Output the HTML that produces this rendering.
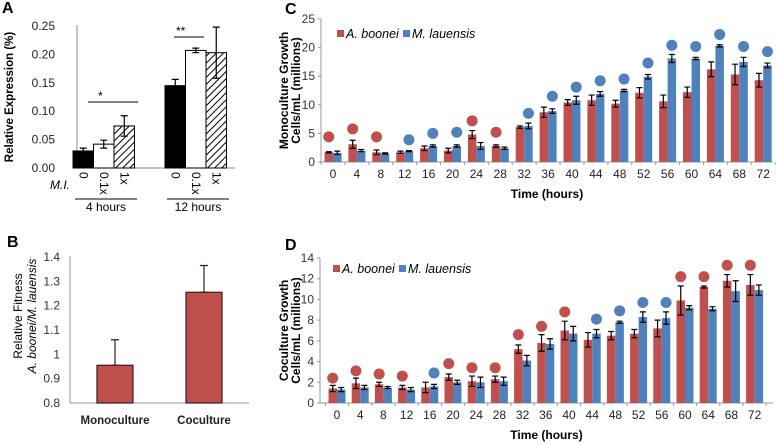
<!DOCTYPE html>
<html><head><meta charset="utf-8"><style>
body{margin:0;background:#fff;}
svg{display:block;font-family:"Liberation Sans",sans-serif;}
</style></head><body>
<svg id="fig" width="777" height="445" viewBox="0 0 777 445" xmlns="http://www.w3.org/2000/svg">
<defs>
<pattern id="hatch" patternUnits="userSpaceOnUse" width="5" height="5" patternTransform="rotate(45)">
<rect width="5" height="5" fill="#fff"/><line x1="0" y1="0" x2="0" y2="5" stroke="#000" stroke-width="2"/>
</pattern>
</defs>
<g id="A"></g>
<g id="B"></g>
<g id="C"></g>
<g id="D"></g>
</svg>
<script>
const aGroups=["4 hours","12 hours"];
const aDoses=["0","0.1x","1x"];
const aVals=[[0.030,0.042,0.074],[0.145,0.207,0.203]];
const aErr=[[0.005,0.007,0.018],[0.011,0.004,0.045]];
const aTicks=[0,0.05,0.10,0.15,0.20,0.25];

const bCats=["Monoculture","Coculture"];
const bVals=[0.955,1.255];
const bErr=[0.105,0.11];
const bTicks=[0.8,0.9,1,1.1,1.2,1.3,1.4];

const hours=["0","4","8","12","16","20","24","28","32","36","40","44","48","52","56","60","64","68","72"];
const cRed=[1.7,3.1,1.7,1.7,2.4,2.0,4.8,2.8,6.1,8.7,10.4,10.8,10.2,12.1,10.6,12.2,16.2,15.3,14.3];
const cRedErr=[0.1,0.7,0.4,0.2,0.4,0.4,0.7,0.2,0.2,0.9,0.5,0.9,0.6,0.9,1.1,0.9,1.3,1.8,1.2];
const cBlue=[1.6,2.0,1.5,1.9,2.8,2.8,2.8,2.4,6.3,8.9,10.8,11.9,12.5,14.9,18.1,18.1,20.3,17.5,16.9];
const cBlueErr=[0.3,0.2,0.1,0.1,0.2,0.2,0.6,0.2,0.5,0.4,0.7,0.4,0.2,0.4,0.7,0.2,0.2,0.8,0.4];
const cDotCol=["r","r","r","b","b","b","r","r","b","b","b","b","b","b","b","b","b","b","b"];
const cDotVal=[4.4,5.8,4.4,3.9,5.0,5.2,7.2,5.2,8.5,11.5,13.1,14.2,14.5,17.3,20.4,20.2,22.3,20.2,19.3];
const cTicks=[0,5,10,15,20,25];

const dRed=[1.4,1.9,1.8,1.5,1.5,2.5,2.1,2.3,5.2,5.8,7.0,6.1,6.5,6.7,7.2,9.9,11.2,11.8,11.4];
const dRedErr=[0.3,0.5,0.2,0.2,0.5,0.3,0.5,0.3,0.4,0.8,0.9,0.7,0.4,0.4,0.8,1.4,0.1,0.6,1.0];
const dBlue=[1.3,1.5,1.5,1.3,1.6,2.0,2.0,2.1,4.1,5.7,6.7,6.7,7.8,8.3,8.2,9.2,9.1,10.8,10.9];
const dBlueErr=[0.2,0.2,0.1,0.2,0.2,0.2,0.5,0.4,0.5,0.5,0.7,0.4,0.1,0.5,0.6,0.2,0.2,1.0,0.5];
const dDotCol=["r","r","r","r","b","r","r","r","r","r","r","b","b","b","b","r","r","r","r"];
const dDotVal=[2.4,3.1,2.8,2.6,2.9,3.8,3.4,3.4,6.6,7.4,8.8,8.1,8.9,9.7,9.7,12.2,12.2,13.3,13.3];
const dTicks=[0,2,4,6,8,10,12,14];

const NS="http://www.w3.org/2000/svg";
const RED="#c0504d",BLUE="#4f81bd";
function mk(parent,tag,attrs,text){const e=document.createElementNS(NS,tag);for(const k in attrs)e.setAttribute(k,attrs[k]);if(text!==undefined)e.textContent=text;parent.appendChild(e);return e;}
function errbar(g,x,y1,y2,w,col){
  const e=mk(g,"path",{d:`M${x},${y1}V${y2}M${x-w},${y1}H${x+w}M${x-w},${y2}H${x+w}`,stroke:col||"#000","stroke-width":1.2,fill:"none"});
  
  
  return e;
}

// ---------- Panel A ----------
(function(){
  const g=document.getElementById("A");
  const y=v=>168-v/0.25*142;
  let t=mk(g,"text",{x:2,y:13,"font-size":16,"font-weight":"bold"},"A");
  
  mk(g,"line",{x1:77,y1:25,x2:77,y2:168,stroke:"#888"});
  mk(g,"line",{x1:77,y1:168,x2:235,y2:168,stroke:"#888"});
  aTicks.forEach(v=>{const tt=mk(g,"text",{x:55,y:y(v)+4,"font-size":12,"text-anchor":"end",fill:"#222"},v.toFixed(2));
    });
  t=mk(g,"text",{transform:"translate(13,97) rotate(-90)","font-size":11.5,"font-weight":"bold","text-anchor":"middle"},"Relative Expression (%)");
  
  const gx=[73,165],fills=["#000","#fff","url(#hatch)"];
  aVals.forEach((grp,gi)=>{
    grp.forEach((v,di)=>{
      const x0=gx[gi]+di*20.5,w=20.5;
      const r=mk(g,"rect",{x:x0,y:y(v),width:w,height:168-y(v),fill:fills[di],stroke:"#000","stroke-width":1});
      
      errbar(g,x0+w/2,y(v+aErr[gi][di]),y(v-aErr[gi][di]),3.5);
      const lt=mk(g,"text",{transform:`translate(${x0+w/2-4},172) rotate(90)`,"font-size":12},aDoses[di]);
      
    });
    mk(g,"line",{x1:gx[gi]+2,y1:199,x2:gx[gi]+64,y2:199,stroke:"#000"});
    const gt=mk(g,"text",{x:gx[gi]+33,y:211,"font-size":12,"text-anchor":"middle"},aGroups[gi]);
    
  });
  t=mk(g,"text",{x:50,y:189,"font-size":12,"font-style":"italic"},"M.I.");
  
  mk(g,"line",{x1:88,y1:102,x2:138,y2:102,stroke:"#000"});
  mk(g,"text",{x:98,y:100,"font-size":12},"*");
  mk(g,"line",{x1:174,y1:37,x2:204,y2:37,stroke:"#000"});
  mk(g,"text",{x:176,y:35,"font-size":12},"**");
})();

// ---------- Panel B ----------
(function(){
  const g=document.getElementById("B");
  const y=v=>403-(v-0.8)/0.6*146;
  let t=mk(g,"text",{x:7,y:247,"font-size":16,"font-weight":"bold"},"B");
  
  mk(g,"line",{x1:70,y1:256,x2:70,y2:403,stroke:"#999"});
  mk(g,"line",{x1:70,y1:403,x2:249,y2:403,stroke:"#999"});
  bTicks.forEach(v=>{const tt=mk(g,"text",{x:60,y:y(v)+4,"font-size":12,"text-anchor":"end",fill:"#333"},String(v));
    });
  t=mk(g,"text",{transform:"translate(22,316) rotate(-90)","font-size":12,"text-anchor":"middle"},"Relative Fitness");
  
  t=mk(g,"text",{transform:"translate(36,316) rotate(-90)","font-size":12,"font-style":"italic","text-anchor":"middle"},"A. boonei/M. lauensis");
  
  const cx=[115,204];
  bVals.forEach((v,i)=>{
    errbar(g,cx[i],y(v+bErr[i]),y(v),4,"#3a1a1a");
    const r=mk(g,"rect",{x:cx[i]-18,y:y(v),width:36,height:403-y(v),fill:RED,stroke:"#3a1a1a","stroke-width":1.2});
    
    const lt=mk(g,"text",{x:cx[i],y:424,"font-size":11.5,"font-weight":"bold","text-anchor":"middle",fill:"#222"},bCats[i]);
    
  });
})();

// ---------- Panels C & D ----------
function growth(id,o){
  const g=document.getElementById(id);
  const y=v=>o.y0-v/o.max*(o.y0-o.yTop);
  const xc=i=>o.x0+i*o.dx;
  let t=mk(g,"text",{x:o.lx,y:o.ly,"font-size":16,"font-weight":"bold"},id);
  
  mk(g,"line",{x1:o.ax,y1:o.yTop,x2:o.ax,y2:o.y0,stroke:"#999"});
  mk(g,"line",{x1:o.ax,y1:o.y0,x2:773,y2:o.y0,stroke:"#999"});
  o.ticks.forEach(v=>{
    mk(g,"line",{x1:o.ax-3,y1:y(v),x2:o.ax,y2:y(v),stroke:"#999"});
    const tt=mk(g,"text",{x:o.ax-6,y:y(v)+4,"font-size":12,"text-anchor":"end",fill:"#333"},String(v));
    
  });
  for(let i=0;i<=hours.length;i++){const xx=o.x0+(i-0.5)*o.dx;mk(g,"line",{x1:xx,y1:o.y0,x2:xx,y2:o.y0+3,stroke:"#999"});}
  t=mk(g,"text",{transform:`translate(${o.tx1},${(o.yTop+o.y0)/2}) rotate(-90)`,"font-size":12,"font-weight":"bold","text-anchor":"middle"},o.title);
  
  t=mk(g,"text",{transform:`translate(${o.tx1+12},${(o.yTop+o.y0)/2}) rotate(-90)`,"font-size":12,"font-weight":"bold","text-anchor":"middle"},"Cells/mL (millions)");
  
  const bw=8.5;
  hours.forEach((h,i)=>{
    const cx=xc(i);
    const r1=mk(g,"rect",{x:cx-bw,y:y(o.red[i]),width:bw,height:o.y0-y(o.red[i]),fill:RED});
    
    const r2=mk(g,"rect",{x:cx,y:y(o.blue[i]),width:bw,height:o.y0-y(o.blue[i]),fill:BLUE});
    
    errbar(g,cx-bw/2,y(o.red[i]+o.redErr[i]),y(o.red[i]-o.redErr[i]),3);
    errbar(g,cx+bw/2,y(o.blue[i]+o.blueErr[i]),y(o.blue[i]-o.blueErr[i]),3);
    const isR=o.dotCol[i]==="r";
    const c=mk(g,"circle",{cx:isR?cx-bw/2:cx+bw/2,cy:y(o.dotVal[i]),r:5.5,fill:isR?RED:BLUE});
    
    const lt=mk(g,"text",{x:cx,y:o.y0+16,"font-size":12,"text-anchor":"middle",fill:"#222"},h);
    
  });
  t=mk(g,"text",{x:(o.ax+773)/2,y:o.y0+36,"font-size":12,"font-weight":"bold","text-anchor":"middle"},"Time (hours)");
  
  const lg=mk(g,"g",{});
  
  mk(lg,"rect",{x:o.legX,y:o.legY-4,width:7,height:7,fill:RED});
  mk(lg,"text",{x:o.legX+9,y:o.legY+4,"font-size":12.5,"font-style":"italic"},"A. boonei");
  mk(lg,"rect",{x:o.legX+66,y:o.legY-4,width:7,height:7,fill:BLUE});
  mk(lg,"text",{x:o.legX+75,y:o.legY+4,"font-size":12.5,"font-style":"italic"},"M. lauensis");
}
growth("C",{red:cRed,redErr:cRedErr,blue:cBlue,blueErr:cBlueErr,dotCol:cDotCol,dotVal:cDotVal,ticks:cTicks,max:25,
  y0:162,yTop:19,ax:321,x0:333,dx:23.9,lx:285,ly:14,tx1:288,title:"Monoculture Growth",legX:337,legY:34});
growth("D",{red:dRed,redErr:dRedErr,blue:dBlue,blueErr:dBlueErr,dotCol:dDotCol,dotVal:dDotVal,ticks:dTicks,max:14,
  y0:403,yTop:258,ax:320,x0:337,dx:23.2,lx:285,ly:250,tx1:288,title:"Coculture Growth",legX:333,legY:269});
</script>
</body></html>
